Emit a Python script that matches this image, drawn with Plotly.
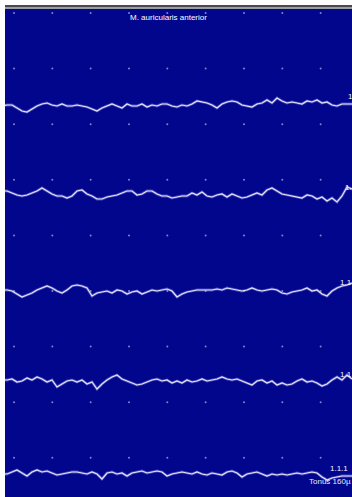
import plotly.graph_objects as go

# ---- data -------------------------------------------------------------
title_text = "M. auricularis anterior"
channel_labels = ["1", "1.", "1.1", "1.1", "1.1.1"]
scale_label = "Tonus 160µ"

sample_step_ms = 5  # time between samples

# amplitudes (arbitrary units, up positive), one list per channel
ch1 = [-2, -1, -1, -4, -7, -8, -5, -2, 0, 1,
       -1, -2, 0, -2, -2, -1, -2, -3, -5, -7,
       -4, -2, 0, -2, -4, 0, -2, -2, 0, -3,
       -1, -2, 0, 0, -2, -3, -1, -2, 0, 3,
       2, 1, -1, -4, 0, 2, 3, 2, -1, -2,
       -3, 0, 1, 4, 1, 6, 3, 1, 2, 1,
       0, 3, 2, 4, 1, 2, -1, -2, 0, 0, 0]
ch2 = [3, 3, 1, -1, -2, -1, 1, 3, 6, 3,
       0, -2, -2, -4, -2, 3, 4, 0, -2, -5,
       -5, -3, -2, -1, 1, 3, 3, -1, 0, 3,
       3, 0, -2, -2, -4, -3, -2, -2, 1, -1,
       2, -2, -3, -1, 0, -3, 0, -2, -4, -3,
       -1, 1, -1, 4, 6, 3, 0, -1, -2, -3,
       -4, -1, -2, -5, -3, -7, -4, -8, -2, 7, 5]
ch3 = [1, 1, 0, -3, -6, -4, -2, 1, 3, 5,
       3, 0, -2, 1, 5, 6, 5, 3, -5, -2,
       -1, 0, -2, 1, 0, -3, -1, 0, -3, -1,
       1, 0, 1, 2, 0, -6, -3, -1, 0, 1,
       1, 1, 1, 2, 1, 3, 2, 1, 0, 1,
       3, 1, 0, 1, 2, 1, -2, -3, -1, 0,
       1, 3, 0, 1, -3, -5, 0, 3, 5, 6, 8]
ch4 = [1, 1, 2, -1, 0, 3, 1, 4, 2, -1,
       1, -6, -3, 0, 1, -1, 1, -3, -1, -8,
       -3, 1, 4, 6, 2, 0, -2, -4, -3, -1,
       1, 2, 0, 1, -2, 0, -2, 1, -1, 0,
       2, 0, 1, 2, 4, 2, 1, 2, 0, -2,
       -4, 0, 1, -2, 0, -4, -2, -4, -3, 0,
       2, -1, 0, -2, -5, -3, 1, 4, 1, 6, 2]
ch5 = [-1, -1, 1, 3, 0, -3, 1, 3, 1, 2,
       0, -2, -1, 0, 1, 1, 0, -1, 1, -1,
       -6, 0, 1, -1, 0, -3, 0, 1, 2, 0,
       1, 2, 1, -3, -1, 0, 1, 0, -1, 1,
       -1, -2, 0, -1, -2, 1, 2, 0, -4, -1,
       0, 1, -1, -3, -1, -2, -1, -2, -1, 0,
       -1, 0, 1, 0, -4, -7, -5, -4, -3, -3, -3]
channels = [ch1, ch2, ch3, ch4, ch5]

# ---- layout constants -----------------------------------------------
W, H = 352, 497
ML, MT = 5, 5
BG = "#02068c"
baselines = [-99, -189, -286, -376, -468]   # channel offsets on y axis
label_pos = [(343.5, -91), (341, -182.5), (336, -277.5), (336, -369.5), (326, -463.5)]
x_range = [3, 350]
y_range = [-(H - MT), 0]
FONT = "Liberation Sans, Arial"

fig = go.Figure()

# grid dots
gx, gy = [], []
for i in range(9):
    for j in range(9):
        gx.append(12 + 38.33 * i)
        gy.append(-(8 + 55.6 * j))
fig.add_trace(go.Scatter(x=gx, y=gy, mode="markers",
                         marker=dict(size=2.0, color="rgba(150,155,215,0.85)", line=dict(width=0)),
                         hoverinfo="skip", showlegend=False))

for ch, base in zip(channels, baselines):
    t = [k * sample_step_ms for k in range(len(ch))]
    y = [base + v for v in ch]
    fig.add_trace(go.Scatter(x=t, y=y, mode="lines",
                             line=dict(color="rgba(170,170,255,0.4)", width=2.8),
                             hoverinfo="skip", showlegend=False))
    fig.add_trace(go.Scatter(x=t, y=y, mode="lines",
                             line=dict(color="#e6e6f4", width=1.2),
                             hoverinfo="skip", showlegend=False))

annotations = [dict(x=166, y=-12, xref="x", yref="y", text=title_text, showarrow=False,
                    font=dict(family=FONT, size=8, color="white"),
                    xanchor="center", yanchor="middle")]
for lab, (lx, ly) in zip(channel_labels, label_pos):
    annotations.append(dict(x=lx, y=ly, xref="x", yref="y", text=lab, showarrow=False,
                            font=dict(family=FONT, size=8, color="#f4f4fa"),
                            xanchor="left", yanchor="middle"))
annotations.append(dict(x=305, y=-476.5, xref="x", yref="y", text=scale_label, showarrow=False,
                        font=dict(family=FONT, size=8, color="#e8e8f4"),
                        xanchor="left", yanchor="middle"))

shapes = [
    dict(type="rect", xref="paper", yref="paper", x0=0, x1=1, y0=1 - 2 / (H - MT), y1=1,
         fillcolor="#4a4a4e", line=dict(width=0), layer="above"),
    dict(type="rect", xref="paper", yref="paper", x0=0, x1=1, y0=1 - 4 / (H - MT), y1=1 - 2 / (H - MT),
         fillcolor="#9c9ca4", line=dict(width=0), layer="above"),
]

fig.update_layout(
    width=W, height=H,
    margin=dict(l=ML, r=0, t=MT, b=0, pad=0),
    paper_bgcolor="white", plot_bgcolor=BG,
    xaxis=dict(range=x_range, visible=False, showgrid=False, zeroline=False, fixedrange=True),
    yaxis=dict(range=y_range, visible=False, showgrid=False, zeroline=False, fixedrange=True),
    annotations=annotations, shapes=shapes,
)

fig.write_html("out.html", config={"displayModeBar": False},
               post_script="document.body.style.margin='0';document.body.style.overflow='hidden';")
